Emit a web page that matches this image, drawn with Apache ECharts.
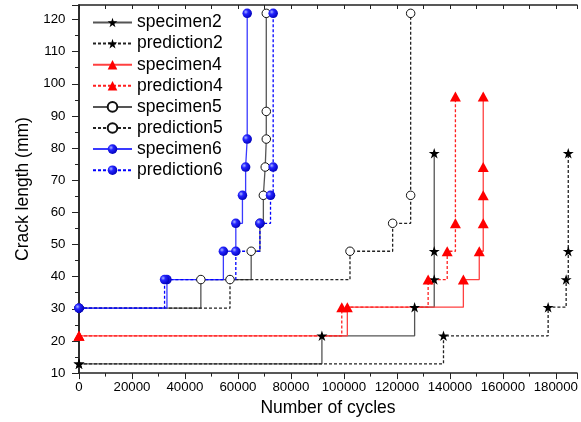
<!DOCTYPE html>
<html>
<head>
<meta charset="utf-8">
<script src="https://cdn.jsdelivr.net/npm/echarts@6/dist/echarts.min.js"></script>
<style>
    html, body { margin: 0; padding: 0; background: #fff; }
    #chart { width: 581px; height: 422px; }
</style>
</head>
<body>
<div id="chart"></div>
<script>
// Crack growth data: [cycles, crack length (mm)]
const specimen2 = [[0, 12.9], [91700, 21.6], [126700, 30.5], [134100, 39.1], [134100, 47.9], [134100, 78.4]];
const prediction2 = [[0, 12.9], [137600, 21.6], [177100, 30.5], [183900, 39.1], [184700, 47.9], [184700, 78.4]];
const specimen4 = [[0, 21.6], [101300, 30.5], [145100, 39.1], [151100, 47.9], [152600, 56.6], [152600, 65.3], [152600, 74.1], [152600, 96]];
const prediction4 = [[0, 21.6], [99200, 30.5], [131800, 39.1], [139000, 47.9], [142100, 56.6], [142100, 96]];
const specimen5 = [[0, 30.2], [46000, 39.1], [65000, 47.9], [68300, 56.6], [69600, 65.3], [70300, 74.1], [70700, 82.8], [70700, 91.4], [70700, 121.9]];
const prediction5 = [[0, 30.2], [57000, 39.1], [102300, 47.9], [118400, 56.6], [125200, 65.3], [125200, 121.9]];
const specimen6 = [[0, 30.2], [33200, 39.1], [54500, 47.9], [59200, 56.6], [61700, 65.3], [62900, 74.1], [63500, 82.8], [63500, 121.9]];
const prediction6 = [[0, 30.2], [32300, 39.1], [59200, 47.9], [68300, 56.6], [72300, 65.3], [73300, 74.1], [73300, 121.9]];

const FONT = 'Liberation Sans, Arial, sans-serif';
const STAR = 'path://M50 2 L61.23 36.55 L97.55 36.55 L68.16 57.9 L79.39 92.45 L50 71.1 L20.61 92.45 L31.84 57.9 L2.45 36.55 L38.77 36.55 Z';

const ballColor = {
    type: 'radial', x: 0.35, y: 0.35, r: 0.7,
    colorStops: [
        { offset: 0, color: '#a8b4ff' },
        { offset: 0.35, color: '#2424ff' },
        { offset: 1, color: '#0000b8' }
    ]
};

const markers = {
    star: { symbol: STAR, symbolSize: [11, 10.5], itemStyle: { color: '#000' } },
    triangle: { symbol: 'triangle', symbolSize: [11, 10], itemStyle: { color: '#ff0000' } },
    circle: { symbol: 'circle', symbolSize: 8.5, itemStyle: { color: '#fff', borderColor: '#111', borderWidth: 1 } },
    ball: { symbol: 'circle', symbolSize: 9.5, itemStyle: { color: ballColor } }
};

function makeSeries(name, data, lineColor, dashed, marker) {
    const m = markers[marker];
    return {
        name: name,
        type: 'line',
        data: data,
        step: 'end',
        clip: false,
        symbol: m.symbol,
        symbolSize: m.symbolSize,
        itemStyle: m.itemStyle,
        lineStyle: {
            color: lineColor,
            width: 1.3,
            type: dashed ? [3, 2] : 'solid'
        }
    };
}

// top / right axes only carry inward ticks to close the frame
function mirrorAxis(position, min, max, interval) {
    return {
        type: 'value',
        position: position,
        min: min,
        max: max,
        interval: interval,
        axisLine: { show: true, lineStyle: { color: '#222', width: 1.5 } },
        axisTick: { show: true, inside: true, length: 4, lineStyle: { color: '#222' } },
        minorTick: { show: true, splitNumber: 2, length: 4, lineStyle: { color: '#222' } },
        axisLabel: { show: false },
        splitLine: { show: false }
    };
}

const chart = echarts.init(document.getElementById('chart'));
const option = {
    backgroundColor: '#fff',
    animation: false,
    grid: { left: 79, right: 1, top: 5, bottom: 46 },
    legend: {
        orient: 'vertical',
        left: 92,
        top: 13.5,
        padding: 0,
        itemWidth: 39,
        itemHeight: 12,
        itemGap: 3.1,
        selectedMode: false,
        textStyle: { fontSize: 17.5, color: '#000', fontFamily: FONT }
    },
    xAxis: [{
        type: 'value',
        min: 0,
        max: 188000,
        interval: 20000,
        name: 'Number of cycles',
        nameLocation: 'middle',
        nameGap: 24.5,
        nameTextStyle: { fontSize: 17.5, color: '#000', fontFamily: FONT },
        axisLine: { show: true, lineStyle: { color: '#222', width: 1.5 } },
        axisTick: { show: true, length: 6, lineStyle: { color: '#222' } },
        minorTick: { show: true, splitNumber: 2, length: 3.5, lineStyle: { color: '#222' } },
        axisLabel: {
            margin: 8,
            fontSize: 13.3,
            color: '#000',
            fontFamily: FONT,
            showMaxLabel: false,
            formatter: function(v) { return String(v); }
        },
        splitLine: { show: false }
    }, mirrorAxis('top', 0, 188000, 20000)],
    yAxis: [{
        type: 'value',
        min: 10,
        max: 124.5,
        interval: 10,
        name: 'Crack length (mm)',
        nameLocation: 'middle',
        nameGap: 40,
        nameTextStyle: { fontSize: 17.5, color: '#000', fontFamily: FONT },
        axisLine: { show: true, lineStyle: { color: '#222', width: 1.5 } },
        axisTick: { show: true, length: 7, lineStyle: { color: '#222' } },
        minorTick: { show: true, splitNumber: 2, length: 4, lineStyle: { color: '#222' } },
        axisLabel: {
            margin: 13.5,
            fontSize: 13.3,
            color: '#000',
            fontFamily: FONT,
            showMaxLabel: false
        },
        splitLine: { show: false }
    }, mirrorAxis('right', 10, 124.5, 10)],
    series: [
        makeSeries('specimen2', specimen2, '#555', false, 'star'),
        makeSeries('prediction2', prediction2, '#222', true, 'star'),
        makeSeries('specimen4', specimen4, '#ff4040', false, 'triangle'),
        makeSeries('prediction4', prediction4, '#ff2020', true, 'triangle'),
        makeSeries('specimen5', specimen5, '#555', false, 'circle'),
        makeSeries('prediction5', prediction5, '#222', true, 'circle'),
        makeSeries('specimen6', specimen6, '#3a3aff', false, 'ball'),
        makeSeries('prediction6', prediction6, '#0000ff', true, 'ball')
    ]
};
chart.setOption(option);
</script>
</body>
</html>
